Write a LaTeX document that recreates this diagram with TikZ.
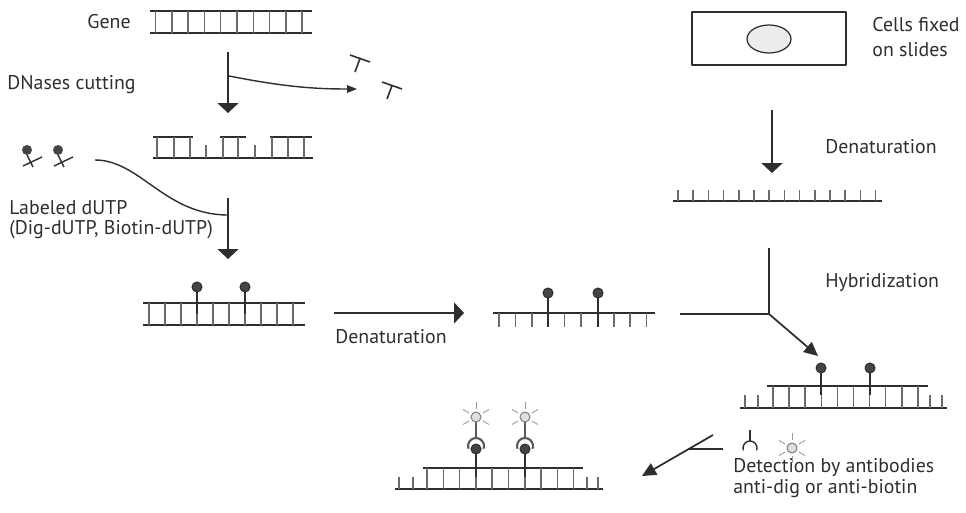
\documentclass[tikz,border=0pt]{standalone}
\usepackage{fontspec}
\setmainfont{PT Sans}
\usetikzlibrary{arrows.meta}
\definecolor{ink}{gray}{0.18}
\definecolor{rungc}{gray}{0.42}
\definecolor{bead}{gray}{0.27}
\definecolor{glow}{gray}{0.88}

\begin{document}
\begin{tikzpicture}[x=0.02cm,y=-0.02cm, line join=round,
	font=\fontsize{11.3pt}{11.5pt}\selectfont,
	strand/.style={draw=ink, line width=1.1pt},
	rung/.style={draw=rungc, line width=0.85pt},
	label/.style={inner sep=0pt, text=ink, align=left},
	bigflow/.style={draw=ink, line width=1pt, -{Triangle[length=0.2cm,width=0.42cm]}},
	slimflow/.style={draw=ink, line width=0.8pt, -{Triangle[length=0.2cm,width=0.15cm]}},
	midflow/.style={draw=ink, line width=1pt, -{Triangle[length=0.28cm,width=0.26cm]}},
	lolly/.style={draw=ink, fill=bead, line width=0.6pt},
	light/.style={draw=gray, fill=glow, line width=0.6pt},
	ray/.style={draw=gray!80, line width=0.5pt}]
	\useasboundingbox (0,0) rectangle (966,513);
	% texts
	\node[label, anchor=east] (gene) at (131,22) {Gene};
	\node[label, anchor=west] (cut) at (7,85) {DNases cutting};
	\node[label, anchor=west] (dutp) at (9,220) {Labeled dUTP\\(Dig-dUTP, Biotin-dUTP)};
	\node[label, anchor=west] (den1) at (335,337) {Denaturation};
	\node[label, anchor=west] (cells) at (872,37) {Cells fixed\\[3pt]on slides};
	\node[label, anchor=west] (den2) at (825,147) {Denaturation};
	\node[label, anchor=west] (hyb) at (825,283) {Hybridization};
	\node[label, anchor=west] (det) at (733,478) {Detection by antibodies\\anti-dig or anti-biotin};
	% gene
	\draw[strand] (150,11)--(312,11) (150,33)--(312,33);
	\foreach \i in {0,...,9} \draw[rung] ({155.5+16.3*\i},11)--++(0,22);
	% cut gene
	\draw[strand] (153,158)--(313,158) (153,137)--(193,137) (220,137)--(246,137) (270,137)--(312,137);
	\foreach \x in {157,174,190,223,238,272,288,304} \draw[rung] (\x,137)--(\x,158);
	\foreach \x in {206,255} \draw[rung] (\x,145)--(\x,158);
	% cut pieces
	\draw[ink, line width=0.9pt] (350,55)--(370,62) (360,58.5)--(355,72);
	\draw[ink, line width=0.9pt] (382,82)--(402,89) (392,85.5)--(387,99);
	% labeled dUTP
	\foreach \x in {27,58} {
		\draw[ink, line width=0.8pt] (\x,155)--(\x+6,167) (\x-4,166)--(\x+15,157);
		\fill[bead] (\x,150) circle[radius=5];
	}
	% labeled double strand
	\draw[strand] (143,303)--(305,303) (143,325)--(305,325);
	\foreach \i in {0,...,9} \draw[rung] ({149+16*\i},303)--++(0,22);
	\foreach \x in {197,245} {
		\draw[ink, line width=0.9pt] (\x,287)--(\x,314);
		\draw[lolly] (\x,287) circle[radius=5];
	}
	% single probe strand
	\draw[strand] (493,313)--(655,313);
	\foreach \i in {0,...,9} \draw[rung] ({499+16.4*\i},313)--++(0,14);
	\foreach \x in {548,598} {
		\draw[ink, line width=0.9pt] (\x,293)--(\x,327);
		\draw[lolly] (\x,293) circle[radius=5];
	}
	% cells on slide
	\draw[ink, line width=0.9pt] (692,12) rectangle (846,65);
	\draw[ink, fill=gray!15, line width=0.7pt] (769,39) ellipse[x radius=22, y radius=14];
	% denatured target
	\draw[strand] (673,201)--(882,201);
	\foreach \i in {0,...,13} \draw[rung] ({678+15.2*\i},201)--++(0,-11);
	% hybrid
	\draw[strand] (740,408)--(947,408) (767,386)--(928,386);
	\foreach \i in {0,...,9} \draw[rung] ({773+16.1*\i},386)--++(0,22);
	\foreach \x in {745,758,930,942} \draw[rung] (\x,395)--(\x,408);
	\foreach \x in {821,870} {
		\draw[ink, line width=0.9pt] (\x,368)--(\x,395);
		\draw[lolly] (\x,368) circle[radius=5];
	}
	% detected hybrid
	\draw[strand] (395,489)--(603,489) (423,468)--(583,468);
	\foreach \i in {0,...,9} \draw[rung] ({427+16.3*\i},468)--++(0,21);
	\foreach \x in {399,413,587,598} \draw[rung] (\x,477)--(\x,489);
	\foreach \x in {476,525} {
		\draw[ink, line width=0.9pt] (\x,449)--(\x,477);
		\draw[lolly] (\x,449) circle[radius=5];
		\draw[draw=ink!80, line width=1.2pt] (\x,446) ++(160:8) arc[start angle=160, end angle=380, radius=8];
		\draw[gray!70!black, line width=0.8pt] (\x,438)--(\x,422);
		\foreach \a in {30,150,210,270,330} \draw[ray] (\x,417) ++(\a:8)--++(\a:7);
		\draw[light] (\x,417) circle[radius=5];
	}
	% antibody and marker
	\draw[ink, line width=0.8pt] (750,430)--(750,441);
	\draw[ink, line width=0.8pt] (750,448) ++(160:7) arc[start angle=160, end angle=380, radius=7];
	\foreach \a in {30,90,150,210,270,330} \draw[ray] (792,448) ++(\a:8)--++(\a:7);
	\draw[light] (792,448) circle[radius=5];
	% flow arrows
	\coordinate (a1) at (228,52); \coordinate (a2) at (228,113);
	\draw[bigflow] (a1)--(a2);
	\coordinate (c1) at (229,76); \coordinate (c2) at (357,89);
	\draw[slimflow] (c1) .. controls (285,87) and (315,89) .. (c2);
	\coordinate (b1) at (228,198); \coordinate (b2) at (228,259);
	\draw[bigflow] (b1)--(b2);
	\coordinate (d1) at (95,160); \coordinate (d2) at (228,215);
	\draw[ink, line width=0.8pt] (d1) .. controls (140,160) and (165,215) .. (d2);
	\coordinate (e1) at (334,313); \coordinate (e2) at (464,313);
	\draw[bigflow] (e1)--(e2);
	\coordinate (f1) at (772,110); \coordinate (f2) at (772,173);
	\draw[bigflow] (f1)--(f2);
	\coordinate (hj) at (769,314);
	\draw[ink, line width=1pt] (680,314)--(hj) (769,248)--(hj);
	\coordinate (h2) at (818,356);
	\draw[midflow] (hj)--(h2);
	\coordinate (g1) at (713,435); \coordinate (g2) at (642,476); \coordinate (gj) at (688,449.3);
	\draw[midflow] (g1)--(g2);
	\draw[ink, line width=1pt] (gj)--(723,449.3);
\end{tikzpicture}
\end{document}
